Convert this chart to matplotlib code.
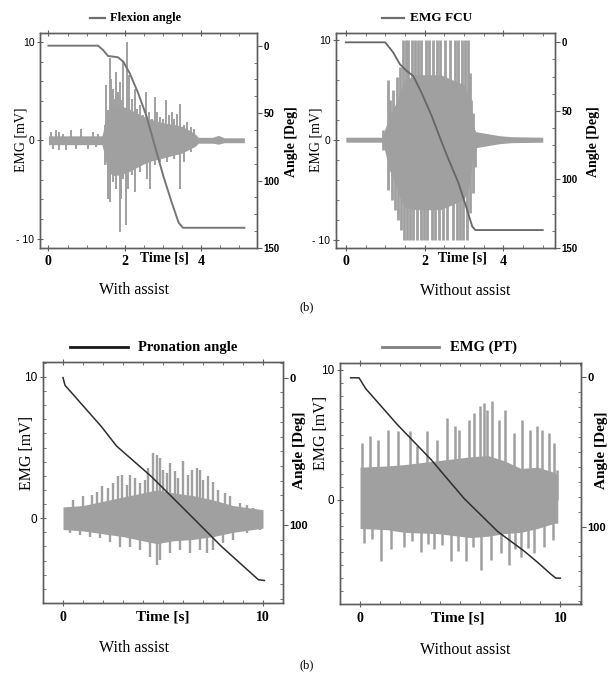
import matplotlib

matplotlib.use("Agg")

import matplotlib.pyplot as plt  # noqa: E402
from matplotlib.lines import Line2D  # noqa: E402
from matplotlib.ticker import MultipleLocator  # noqa: E402

W, H = 614, 675
SERIF = ["Liberation Serif", "DejaVu Serif"]
SANS = ["Liberation Sans", "DejaVu Sans"]
EMG_COLOR = "#a0a0a0"
FRAME = "#5e5e5e"

# --------------------------------------------------------------------------- #
# Data (time in s, EMG in mV, angle in deg).
# EMG = dense core band + individual spikes (up: 0 -> v, down: v -> 0).
# --------------------------------------------------------------------------- #
# top-left: flexion, with assist
fa_angle_t = [0, 1.30, 1.43, 1.56, 1.82, 1.96, 2.13, 2.35, 2.57, 2.79, 3.01, 3.23, 3.41, 3.52, 5.13]
fa_angle = [0, 0, 3.2, 7.6, 8.6, 11.8, 20.5, 35.2, 52.5, 74.7, 96.8, 116.5, 131.3, 135, 135]
fa_env_t = [0, 1.40, 1.45, 1.55, 1.7, 1.9, 2.1, 2.3, 2.5, 2.7, 2.9, 3.1, 3.3, 3.5, 3.7,
            3.85, 3.92, 4.3, 4.45, 4.6, 5.13]
fa_env_hi = [0.45, 0.45, 1.2, 3.0, 3.5, 3.5, 3.2, 2.8, 2.4, 2.1, 1.9, 1.7, 1.6, 1.4, 1.0,
             0.6, 0.3, 0.3, 0.5, 0.25, 0.25]
fa_env_lo = [-0.45, -0.45, -1.2, -3.2, -3.6, -3.5, -3.2, -2.8, -2.4, -2.1, -1.9, -1.7, -1.5, -1.3, -0.9,
             -0.6, -0.3, -0.3, -0.4, -0.25, -0.25]
fa_up_t = [0.06, 0.19, 0.28, 0.37, 0.59, 0.85, 1.16, 1.30,
           1.47, 1.52, 1.56, 1.60, 1.65, 1.69, 1.74, 1.78, 1.82, 1.87, 1.91, 1.96, 2.00, 2.06,
           2.11, 2.18, 2.26, 2.31, 2.40, 2.48, 2.56, 2.62, 2.70, 2.79, 2.84, 2.93, 3.01, 3.08,
           3.15, 3.23, 3.28, 3.37, 3.45, 3.54, 3.63, 3.72, 3.81]
fa_up = [0.85, 1.02, 0.85, 0.68, 1.02, 1.19, 0.85, 0.68,
         1.53, 5.59, 3.05, 8.31, 6.27, 5.25, 4.24, 6.95, 4.92, 5.93, 4.07, 7.97, 3.22, 10.0,
         6.61, 4.24, 5.25, 3.22, 3.56, 2.54, 4.92, 2.88, 2.20, 4.41, 2.88, 2.37, 2.20, 4.07,
         2.54, 2.88, 2.20, 2.71, 3.73, 1.53, 1.86, 1.36, 1.19]
fa_dn_t = [0.11, 0.28, 0.46, 0.72, 1.03, 1.25,
           1.47, 1.56, 1.60, 1.69, 1.78, 1.87, 1.91, 1.96, 2.03, 2.09, 2.18, 2.26, 2.40, 2.57,
           2.66, 2.79, 2.93, 3.10, 3.28, 3.45, 3.54, 3.72]
fa_dn = [-0.85, -1.02, -1.02, -0.85, -0.85, -0.68,
         -2.54, -5.93, -6.27, -4.24, -4.92, -9.32, -5.93, -3.90, -8.64, -4.92, -3.56, -5.25, -3.22, -3.90,
         -4.92, -2.54, -2.20, -2.20, -1.86, -4.92, -2.20, -1.19]

# top-right: flexion, without assist
fn_angle_t = [0, 1.0, 1.2, 1.37, 1.54, 1.71, 1.92, 2.18, 2.44, 2.61, 2.86, 3.08, 3.21, 3.29, 5.0]
fn_angle = [0, 0, 7.3, 15.9, 20.8, 24.5, 36.7, 53.8, 73.4, 85.6, 102.7, 122.3, 134.5, 137, 137]
fn_env_t = [0, 0.93, 0.97, 1.03, 1.10, 1.2, 1.3, 1.4, 1.5, 1.8, 2.1, 2.4, 2.7, 3.0, 3.1,
            3.17, 3.22, 3.3, 3.45, 3.6, 3.9, 4.2, 5.0]
fn_env_hi = [0.25, 0.25, 0.8, 1.5, 2.5, 3.0, 4.0, 5.0, 6.0, 6.5, 6.5, 6.5, 6.0, 5.5, 4.5,
             3.0, 1.5, 0.8, 0.7, 0.6, 0.4, 0.3, 0.25]
fn_env_lo = [-0.25, -0.25, -0.8, -1.8, -3.0, -3.8, -5.0, -6.0, -6.8, -7.0, -7.0, -7.0, -6.5, -6.0, -5.0,
             -3.5, -1.5, -0.8, -0.7, -0.6, -0.4, -0.3, -0.25]
fn_up_t = [0.95, 1.08, 1.12, 1.20, 1.29, 1.37, 1.46, 1.53, 1.58, 1.67, 1.75, 1.84, 1.92, 2.03,
           2.12, 2.22, 2.31, 2.39, 2.52, 2.64, 2.77, 2.86, 2.94, 3.03, 3.09, 3.15, 3.19, 3.24]
fn_up = [1.0, 6.0, 4.0, 5.0, 6.3, 7.3, 10, 10, 10, 10, 10, 10, 10, 10,
         10, 10, 10, 10, 10, 10, 10, 10, 10, 10, 10, 6.7, 4.0, 2.7]
fn_dn_t = [0.95, 1.08, 1.16, 1.24, 1.33, 1.41, 1.47, 1.54, 1.63, 1.71, 1.81, 1.90, 1.98, 2.07,
           2.18, 2.26, 2.36, 2.47, 2.56, 2.73, 2.81, 2.90, 2.98, 3.07, 3.15, 3.22, 3.27]
fn_dn = [-1.0, -5.0, -6.0, -7.0, -8.0, -9.0, -10, -10, -10, -10, -10, -10, -10, -10,
         -10, -10, -10, -10, -10, -10, -10, -10, -10, -10, -7.3, -5.3, -2.7]

# bottom-left: pronation, with assist
pa_angle_t = [0, 0.1, 1.93, 2.68, 4.43, 6.27, 7.93, 9.77, 10.07]
pa_angle = [0, 5.2, 33.4, 46.5, 67.3, 92.1, 114.7, 137.2, 137.7]
pa_env_t = [0, 1.0, 2.0, 3.0, 4.0, 4.7, 5.5, 6.5, 7.5, 8.5, 9.5, 10.0]
pa_env_hi = [0.8, 0.9, 1.2, 1.5, 1.8, 2.0, 1.8, 1.6, 1.3, 0.9, 0.7, 0.6]
pa_env_lo = [-0.8, -0.9, -1.1, -1.3, -1.6, -1.8, -1.6, -1.5, -1.3, -1.0, -0.8, -0.7]
pa_up_t = [0.52, 1.02, 1.43, 1.68, 1.93, 2.27, 2.52, 2.77, 2.93, 3.18, 3.35, 3.60, 3.85, 4.10,
           4.27, 4.52, 4.72, 4.85, 5.02, 5.18, 5.35, 5.60, 5.77, 6.02, 6.27, 6.43, 6.68, 6.85,
           7.02, 7.27, 7.52, 7.77, 8.10, 8.35, 8.85, 9.18, 9.52]
pa_up = [1.30, 1.54, 1.65, 1.89, 2.25, 2.13, 2.48, 2.96, 3.07, 2.36, 3.07, 2.84, 2.48, 2.72,
         3.55, 4.61, 4.49, 4.26, 3.43, 3.19, 3.90, 3.31, 2.84, 4.02, 3.07, 3.43, 3.55, 3.43,
         2.72, 2.96, 2.60, 2.01, 1.77, 1.54, 1.06, 0.95, 0.71]
pa_dn_t = [0.35, 0.85, 1.35, 1.85, 2.35, 2.85, 3.35, 3.85, 4.35, 4.68, 4.85, 5.35, 5.85, 6.35,
           6.85, 7.18, 7.52, 8.02, 8.52, 9.18, 9.85]
pa_dn = [-1.06, -1.18, -1.30, -1.42, -1.65, -2.01, -2.01, -2.25, -2.72, -3.31, -2.96, -2.48, -2.25, -2.48,
         -2.25, -2.48, -2.25, -1.77, -1.54, -1.06, -0.83]

# bottom-right: pronation, without assist
pn_angle_t = [-0.47, -0.05, 0.28, 1.87, 3.53, 5.2, 6.87, 8.2, 8.87, 9.53, 9.78, 10.0]
pn_angle = [0.5, 0.5, 7.7, 31.9, 55.0, 81.3, 103.3, 116.5, 124.0, 131.9, 134.5, 134.5]
pn_env_t = [0, 1.37, 2.2, 3.87, 5.53, 6.37, 7.2, 8.03, 8.87, 9.7, 9.87]
pn_env_hi = [2.5, 2.6, 2.7, 3.0, 3.3, 3.4, 3.0, 2.4, 2.5, 2.1, 1.8]
pn_env_lo = [-2.2, -2.3, -2.5, -2.6, -2.9, -2.8, -2.6, -2.5, -2.2, -1.8, -1.8]
pn_up_t = [0.08, 0.50, 0.92, 1.42, 1.92, 2.50, 2.83, 3.33, 3.83, 4.33, 4.75, 4.92, 5.42, 5.67,
           6.00, 6.17, 6.33, 6.58, 6.92, 7.25, 7.67, 8.08, 8.50, 8.83, 9.08, 9.42, 9.67, 9.83]
pn_up = [4.36, 4.87, 4.62, 5.38, 5.26, 5.26, 4.10, 5.26, 4.62, 6.28, 5.64, 5.38, 6.15, 6.67,
         7.18, 7.44, 6.92, 7.56, 6.15, 6.92, 5.13, 6.15, 5.38, 5.64, 5.38, 5.13, 4.36, 2.31]
pn_dn_t = [0.20, 0.60, 1.03, 1.53, 2.20, 2.60, 3.03, 3.40, 3.70, 4.10, 4.53, 4.90, 5.28, 5.65,
           6.03, 6.53, 7.03, 7.45, 7.75, 8.03, 8.40, 8.70, 9.20, 9.62]
pn_dn = [-3.3, -3.0, -4.7, -3.8, -3.6, -3.2, -4.0, -3.4, -3.8, -3.5, -4.7, -3.9, -4.7, -3.6,
         -5.4, -4.6, -4.1, -5.0, -3.8, -4.4, -3.7, -4.1, -3.6, -3.1]


def fx(x):
    return x / W


def fy(y):
    return 1 - y / H


def rect(x0, y0, x1, y1):
    # pixel box -> figure fraction [left, bottom, width, height]
    return [fx(x0), fy(y1), (x1 - x0) / W, (y1 - y0) / H]


def make_panel(fig, box, xlim, ylim, alim):
    ax = fig.add_axes(rect(*box))
    ax.set_xlim(*xlim)
    ax.set_ylim(*ylim)
    ax2 = ax.twinx()
    ax2.set_ylim(*alim)
    for a in (ax, ax2):
        for s in a.spines.values():
            s.set_color(FRAME)
            s.set_linewidth(1.0)
    ax.tick_params(which="major", direction="inout", length=4, width=0.8, color=FRAME,
                   top=True, right=False)
    ax.tick_params(which="minor", direction="in", length=2.5, width=0.6, color=FRAME,
                   top=True, right=False)
    ax2.tick_params(which="major", direction="out", length=3.5, width=0.8, color=FRAME, pad=1)
    ax2.tick_params(which="minor", direction="in", length=2.5, width=0.6, color=FRAME)
    return ax, ax2


def draw_emg(ax, env_t, lo, hi, up_t, up, dn_t, dn, lw):
    ax.fill_between(env_t, lo, hi, color=EMG_COLOR, lw=0)
    ax.vlines(up_t, 0, up, color=EMG_COLOR, lw=lw)
    ax.vlines(dn_t, dn, 0, color=EMG_COLOR, lw=lw)


def style_ticks(ax, ax2, xt, xl, yt, yl, at, al, xsize, ysize, asize, xpad, ypad):
    ax.set_xticks(xt, xl, fontfamily=SERIF, fontweight="bold", fontsize=xsize)
    ax.set_yticks(yt, yl, fontfamily=SANS, fontsize=ysize)
    ax2.set_yticks(at, al, fontfamily=SANS, fontweight="bold", fontsize=asize)
    ax.tick_params(axis="x", pad=xpad)
    ax.tick_params(axis="y", pad=ypad)


fig = plt.figure(figsize=(W / 100, H / 100), dpi=100)

# ---- top-left
ax, ax2 = make_panel(fig, (40, 33, 257, 248), (-0.22, 5.46), (-10.95, 10.9), (149.5, -9.4))
draw_emg(ax, fa_env_t, fa_env_lo, fa_env_hi, fa_up_t, fa_up, fa_dn_t, fa_dn, 1.4)
ax2.plot(fa_angle_t, fa_angle, color="#767676", lw=1.4)
style_ticks(ax, ax2, [0, 2, 4], ["0", "2", "4"], [-10, 0, 10], ["- 10", "0", "10"],
            [0, 50, 100, 150], ["0", "50", "100", "150"], 10, 7.5, 7, 3, 2)
ax.xaxis.set_minor_locator(MultipleLocator(0.5))
ax.yaxis.set_minor_locator(MultipleLocator(2))
ax2.yaxis.set_minor_locator(MultipleLocator(12.5))
ax.text(3.05, -0.048, "Time [s]", transform=ax.get_xaxis_transform(), ha="center", va="center",
        fontfamily=SERIF, fontweight="bold", fontsize=10)

# ---- top-right
ax, ax2 = make_panel(fig, (336, 33, 555, 248), (-0.25, 5.31), (-10.83, 10.67), (150.1, -6.8))
draw_emg(ax, fn_env_t, fn_env_lo, fn_env_hi, fn_up_t, fn_up, fn_dn_t, fn_dn, 2.0)
ax2.plot(fn_angle_t, fn_angle, color="#666666", lw=1.3)
style_ticks(ax, ax2, [0, 2, 4], ["0", "2", "4"], [-10, 0, 10], ["- 10", "0", "10"],
            [0, 50, 100, 150], ["0", "50", "100", "150"], 10, 7.5, 7, 3, 2)
ax.xaxis.set_minor_locator(MultipleLocator(0.5))
ax.yaxis.set_minor_locator(MultipleLocator(2))
ax2.yaxis.set_minor_locator(MultipleLocator(12.5))
ax.text(2.97, -0.048, "Time [s]", transform=ax.get_xaxis_transform(), ha="center", va="center",
        fontfamily=SERIF, fontweight="bold", fontsize=10)

# ---- bottom-left
ax, ax2 = make_panel(fig, (43, 362, 283, 603), (-1.0, 11.0), (-6.0, 11.06), (153, -10.6))
draw_emg(ax, pa_env_t, pa_env_lo, pa_env_hi, pa_up_t, pa_up, pa_dn_t, pa_dn, 1.7)
ax2.plot(pa_angle_t, pa_angle, color="#2e2e2e", lw=1.1)
style_ticks(ax, ax2, [0, 10], ["0", "10"], [0, 10], ["0", "10"],
            [0, 100], ["0", "100"], 10, 8.5, 8, 4, 2)
ax.xaxis.set_minor_locator(MultipleLocator(1))
ax.yaxis.set_minor_locator(MultipleLocator(1))
ax2.yaxis.set_minor_locator(MultipleLocator(10))
ax.text(5.0, -0.058, "Time [s]", transform=ax.get_xaxis_transform(), ha="center", va="center",
        fontfamily=SERIF, fontweight="bold", fontsize=11)

# ---- bottom-right
ax, ax2 = make_panel(fig, (340, 363, 581, 604), (-1.0, 11.03), (-8.0, 10.5), (151.8, -9.4))
draw_emg(ax, pn_env_t, pn_env_lo, pn_env_hi, pn_up_t, pn_up, pn_dn_t, pn_dn, 1.8)
ax2.plot(pn_angle_t, pn_angle, color="#2e2e2e", lw=1.1)
style_ticks(ax, ax2, [0, 10], ["0", "10"], [0, 10], ["0", "10"],
            [0, 100], ["0", "100"], 10, 8.5, 8, 4, 2)
ax.xaxis.set_minor_locator(MultipleLocator(1))
ax.yaxis.set_minor_locator(MultipleLocator(1))
ax2.yaxis.set_minor_locator(MultipleLocator(10))
ax.text(4.9, -0.058, "Time [s]", transform=ax.get_xaxis_transform(), ha="center", va="center",
        fontfamily=SERIF, fontweight="bold", fontsize=11)

# ---- axis titles (placed in pixels, as in the composite figure)
for x, y, s in [(21, 140, 10), (316, 140, 10), (27, 453, 11.5), (321, 433, 11.5)]:
    fig.text(fx(x), fy(y), "EMG [mV]", rotation=90, ha="center", va="center",
             fontfamily=SERIF, fontsize=s)
for x, y, s in [(291, 142, 10), (594, 142, 10), (300, 450, 11), (601, 450, 11)]:
    fig.text(fx(x), fy(y), "Angle [Deg]", rotation=90, ha="center", va="center",
             fontfamily=SERIF, fontweight="bold", fontsize=s)

# ---- legend-like headers
for (x0, x1, y, col, lw), (tx, label, fs) in [
    ((90, 105, 18, "#6e6e6e", 1.6), (110, "Flexion angle", 9)),
    ((382, 404, 18, "#6e6e6e", 1.6), (410, "EMG FCU", 9.5)),
    ((70, 128, 347, "#1a1a1a", 2.0), (138, "Pronation angle", 10.5)),
    ((382, 439, 347, "#808080", 2.0), (450, "EMG (PT)", 10.5)),
]:
    fig.add_artist(Line2D([fx(x0), fx(x1)], [fy(y), fy(y)], transform=fig.transFigure,
                          color=col, lw=lw))
    fig.text(fx(tx), fy(y), label, ha="left", va="center", fontfamily=SERIF,
             fontweight="bold", fontsize=fs)

# ---- captions
for x, y, s in [(134, 290, "With assist"), (465, 291, "Without assist"),
                (134, 648, "With assist"), (465, 650, "Without assist")]:
    fig.text(fx(x), fy(y), s, ha="center", va="center", fontfamily=SERIF, fontsize=11.5)
for y in (307, 665):
    fig.text(fx(307), fy(y), "(b)", ha="center", va="center", fontfamily=SERIF, fontsize=9)

fig.savefig("out.png", dpi=100)
